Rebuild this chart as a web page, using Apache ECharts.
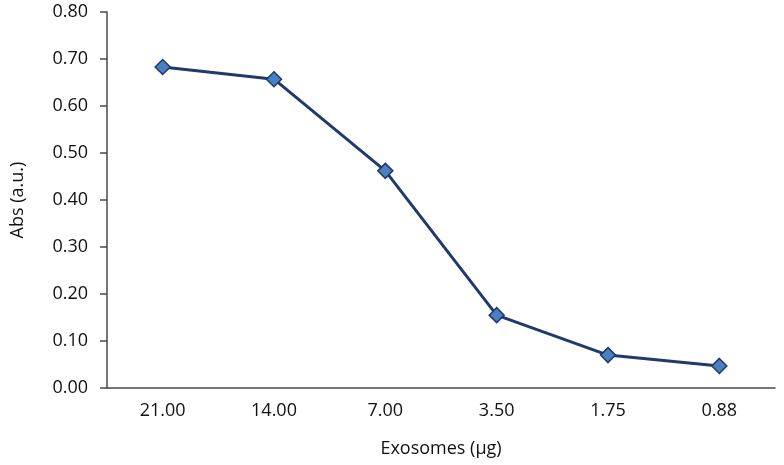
<!DOCTYPE html>
<html><head><meta charset="utf-8">
<script src="https://cdn.jsdelivr.net/npm/echarts@6/dist/echarts.min.js"></script>
<style>html,body{margin:0;padding:0;background:#fff}#c{width:784px;height:465px}</style>
</head><body><div id="c"></div>
<script>
const categories = ['21.00','14.00','7.00','3.50','1.75','0.88'];
const absValues = [0.683, 0.657, 0.462, 0.155, 0.070, 0.047];
const chart = echarts.init(document.getElementById('c'));
chart.setOption({
  animation:false,
  grid:{left:107,right:9,top:12,bottom:77},
  xAxis:{type:'category',data:categories,boundaryGap:true,
    name:'Exosomes (µg)',nameLocation:'middle',nameGap:52,
    nameTextStyle:{fontFamily:'Open Sans',fontSize:18,color:'#111'},
    axisLine:{lineStyle:{color:'#4a4a4a',width:1.5}},
    axisTick:{length:7,lineStyle:{color:'#4a4a4a',width:1.5}},
    axisLabel:{fontFamily:'Open Sans',fontSize:18,color:'#111',margin:14}},
  yAxis:{type:'value',min:0,max:0.8,interval:0.1,
    name:'Abs (a.u.)',nameLocation:'middle',nameGap:80,nameRotate:90,
    nameTextStyle:{fontFamily:'Open Sans',fontSize:18,color:'#111'},
    axisLine:{show:true,lineStyle:{color:'#4a4a4a',width:1.5}},
    axisTick:{show:true,length:7,lineStyle:{color:'#4a4a4a',width:1.5}},
    splitLine:{show:false},
    axisLabel:{fontFamily:'Open Sans',fontSize:18,color:'#111',margin:19,formatter:v=>v.toFixed(2)}},
  series:[{type:'line',data:absValues,symbol:'diamond',symbolSize:15,
    lineStyle:{color:'#1f3a6e',width:3},
    itemStyle:{color:'#4a7fc0',borderColor:'#1f3a6e',borderWidth:1.5}}]
});
</script></body></html>
